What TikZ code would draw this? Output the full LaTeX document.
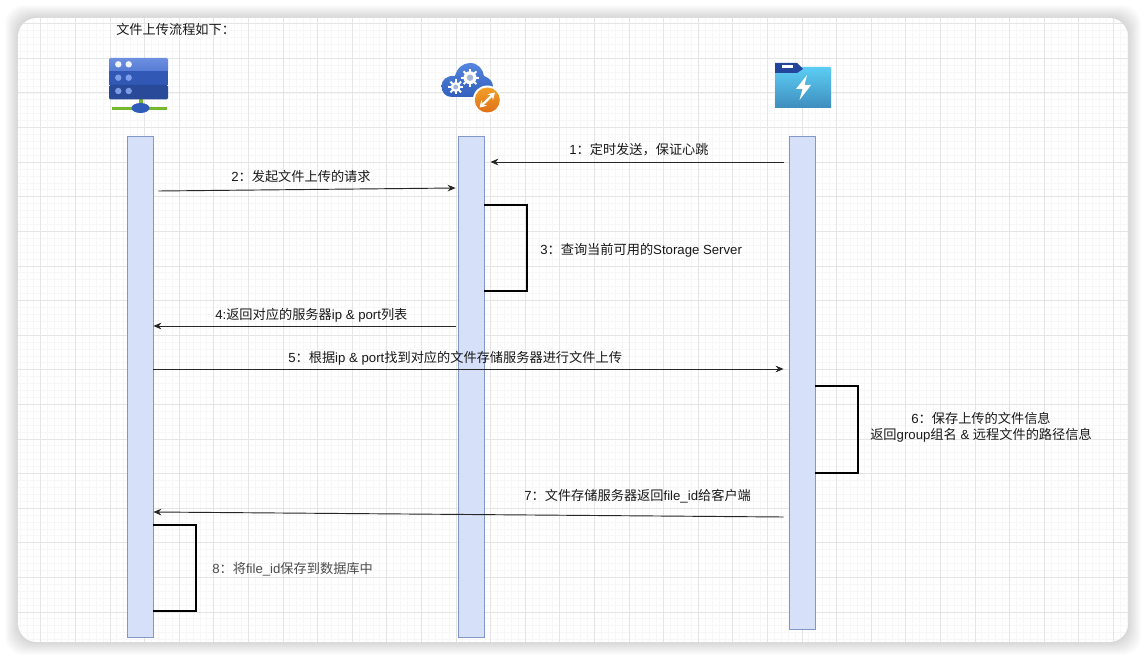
\documentclass[tikz,border=0pt]{standalone}
\usepackage{fontspec}
\setmainfont{Liberation Sans}
\newfontfamily\cjk{Noto Sans CJK SC}
\usetikzlibrary{positioning,arrows.meta}
\definecolor{lifefill}{HTML}{D6E0F8}
\definecolor{lifeedge}{HTML}{8097C8}
\definecolor{rackone}{HTML}{5C83DC}
\definecolor{racktwo}{HTML}{3058B4}
\definecolor{rackthree}{HTML}{284A98}
\definecolor{rackdot}{HTML}{86A6EE}
\definecolor{netgreen}{HTML}{76B82E}
\definecolor{netblue}{HTML}{2F5CB8}
\definecolor{cloudtop}{HTML}{5585DE}
\definecolor{cloudbot}{HTML}{3260BC}
\definecolor{orangetop}{HTML}{F0A028}
\definecolor{orangebot}{HTML}{E07018}
\definecolor{foldertop}{HTML}{5CCDF4}
\definecolor{folderbot}{HTML}{3E8DBE}
\definecolor{foldertab}{HTML}{24469A}
\tikzset{
	lifeline/.style={draw=lifeedge,fill=lifefill,line width=0.6pt,minimum width=19.5pt,inner sep=0pt,anchor=north},
	msg/.style={draw=black!85,line width=0.7pt,-{Stealth[length=6pt,width=5pt]}},
	selfloop/.style={draw=black,line width=1.05pt},
	msgtext/.style={font=\fontsize{9.9pt}{12pt}\selectfont,text=black!90,inner sep=0pt,anchor=west},
	minorline/.style={draw=black!3,line width=0.5pt},
	majorline/.style={draw=black!10,line width=0.6pt}
}
\begin{document}
\begin{tikzpicture}[x=0.75pt,y=-0.75pt]
	\useasboundingbox (0,0) rectangle (1146,660);
	\fill[white] (0,0) rectangle (1146,660);
	% shadow of the window
	\foreach \w in {1,2,...,13}
		\fill[black,opacity=0.011,rounded corners=14pt] ({18-\w},{18-\w}) rectangle ({1128+\w},{642+\w});
	\fill[white,rounded corners=14pt] (18,18) rectangle (1128,642);
	\begin{scope}
		\clip[rounded corners=14pt] (18,18) rectangle (1128,642);
		\foreach \i in {0,...,165}
			\draw[minorline] ({6.1+6.92*\i},18) -- ({6.1+6.92*\i},642);
		\foreach \i in {0,...,95}
			\draw[minorline] (18,{23.7+6.92*\i}) -- (1128,{23.7+6.92*\i});
		\foreach \i in {0,...,33}
			\draw[majorline] ({6.1+34.6*\i},18) -- ({6.1+34.6*\i},642);
		\foreach \i in {0,...,18}
			\draw[majorline] (18,{23.7+34.6*\i}) -- (1128,{23.7+34.6*\i});
	\end{scope}
	% server icon
	\fill[netgreen] (138.5,99) rectangle (142.5,108);
	\draw[line width=2.2pt,color=netgreen] (112,108.5) -- (167,108.5);
	\fill[netblue] (140.5,108) ellipse (9 and 5);
	\shade[top color=rackone!90!white,bottom color=rackone!80!racktwo,rounded corners=1pt] (109,58) rectangle (168,72);
	\fill[racktwo] (109,71.5) rectangle (168,85.5);
	\fill[rackthree,rounded corners=1pt] (109,85) rectangle (168,99.5);
	\foreach \y/\c in {64.3/white,77.7/rackdot,91/rackdot}
		\foreach \x in {118.3,128.7}
			\fill[color=\c,opacity=0.9] (\x,\y) circle (3.2);
	% cloud icon
	\shade[top color=cloudtop,bottom color=cloudbot] (452,97) .. controls (445,97) and (441.5,92) .. (441.5,86) .. controls (441.5,80) and (447,75) .. (455,76) .. controls (457,68) and (463,63) .. (470,63) .. controls (478,63) and (483,69) .. (484,76) .. controls (490,78) and (493,82) .. (493,87) .. controls (493,93) and (489,97) .. (484,97) -- cycle;
	\foreach \cx/\cy/\r in {470/77.7/6.5,455.7/87/5}{
		\fill[white] (\cx,\cy) circle (\r);
		\foreach \a in {0,45,...,315}
			\draw[white,line width=1.5pt] (\cx,\cy) -- ++(\a:{\r+2.5});
		\fill[lifeedge!70!white] (\cx,\cy) circle ({\r*0.5});
	}
	\fill[white] (487.3,100) circle (14.5);
	\shade[top color=orangetop,bottom color=orangebot] (487.3,100) circle (12.5);
	\draw[white,line width=1.7pt,{Stealth[length=5pt,width=6pt]}-{Stealth[length=5pt,width=6pt]}] (479.5,107.5) -- (495,92.5);
	% folder icon
	\shade[top color=foldertop,bottom color=folderbot] (775,67) -- (830,67) -- (831,68) -- (831,108) -- (775,108) -- cycle;
	\fill[foldertab] (775,63) -- (797,63) -- (803,69) -- (797,73) -- (775,73) -- cycle;
	\fill[white] (782,65) rectangle (793,68);
	\fill[white] (807,75) -- (796,89) -- (802.5,89) -- (799.5,100) -- (811,85) -- (804.5,85) -- cycle;
	% lifelines
	\node[lifeline,minimum height=376pt] (client) at (140,136) {};
	\node[lifeline,minimum height=376pt] (tracker) at (471,136) {};
	\node[lifeline,minimum height=370pt] (storage) at (802,136) {};
	\coordinate (heartbeat) at ([xshift=4.5pt]tracker.east |- 0,162);
	\coordinate (heartfrom) at ([xshift=-3.75pt]storage.west |- 0,162);
	\coordinate (askfrom) at ([xshift=3.75pt]client.east |- 0,191);
	\coordinate (askto) at ([xshift=-1.5pt]tracker.west |- 0,188);
	\coordinate (backto) at (client.east |- 0,326);
	\coordinate (backfrom) at ([xshift=-1.5pt]tracker.west |- 0,326);
	\coordinate (sendfrom) at (client.east |- 0,369);
	\coordinate (sendto) at ([xshift=-3.75pt]storage.west |- 0,369);
	\coordinate (idfrom) at ([xshift=-3.75pt]storage.west |- 0,517);
	\coordinate (idto) at (client.east |- 0,512);
	% messages
	\draw[msg] (heartfrom) -- (heartbeat);
	\draw[msg] (askfrom) -- (askto);
	\draw[selfloop] (tracker.east |- 0,205) -- (527,205) -- (527,291) -- (tracker.east |- 0,291);
	\draw[msg] (backfrom) -- (backto);
	\draw[msg] (sendfrom) -- (sendto);
	\draw[selfloop] (storage.east |- 0,386) -- (858,386) -- (858,473) -- (storage.east |- 0,473);
	\draw[msg] (idfrom) -- (idto);
	\draw[selfloop] (client.east |- 0,525) -- (196,525) -- (196,611) -- (client.east |- 0,611);
	% labels
	\node[msgtext] (title) at (116,29) {\cjk 文件上传流程如下：};
	\node[msgtext] (text1) at (569,150) {1{\cjk ：定时发送，保证心跳}};
	\node[msgtext] (text2) at (231,176) {2{\cjk ：发起文件上传的请求}};
	\node[msgtext] (text3) at (540,250) {3{\cjk ：查询当前可用的}Storage Server};
	\node[msgtext] (text4) at (215,315) {4:{\cjk 返回对应的服务器}ip \& port{\cjk 列表}};
	\node[msgtext] (text5) at (288,358) {5{\cjk ：根据}ip \& port{\cjk 找到对应的文件存储服务器进行文件上传}};
	\node[msgtext,align=center] (text6) at (870,427) {6{\cjk ：保存上传的文件信息}\\{\cjk 返回}group{\cjk 组名} \& {\cjk 远程文件的路径信息}};
	\node[msgtext] (text7) at (524,496) {7{\cjk ：文件存储服务器返回}file\_id{\cjk 给客户端}};
	\node[msgtext,text=black!70] (text8) at (212,569) {8{\cjk ：将}file\_id{\cjk 保存到数据库中}};
\end{tikzpicture}
\end{document}
